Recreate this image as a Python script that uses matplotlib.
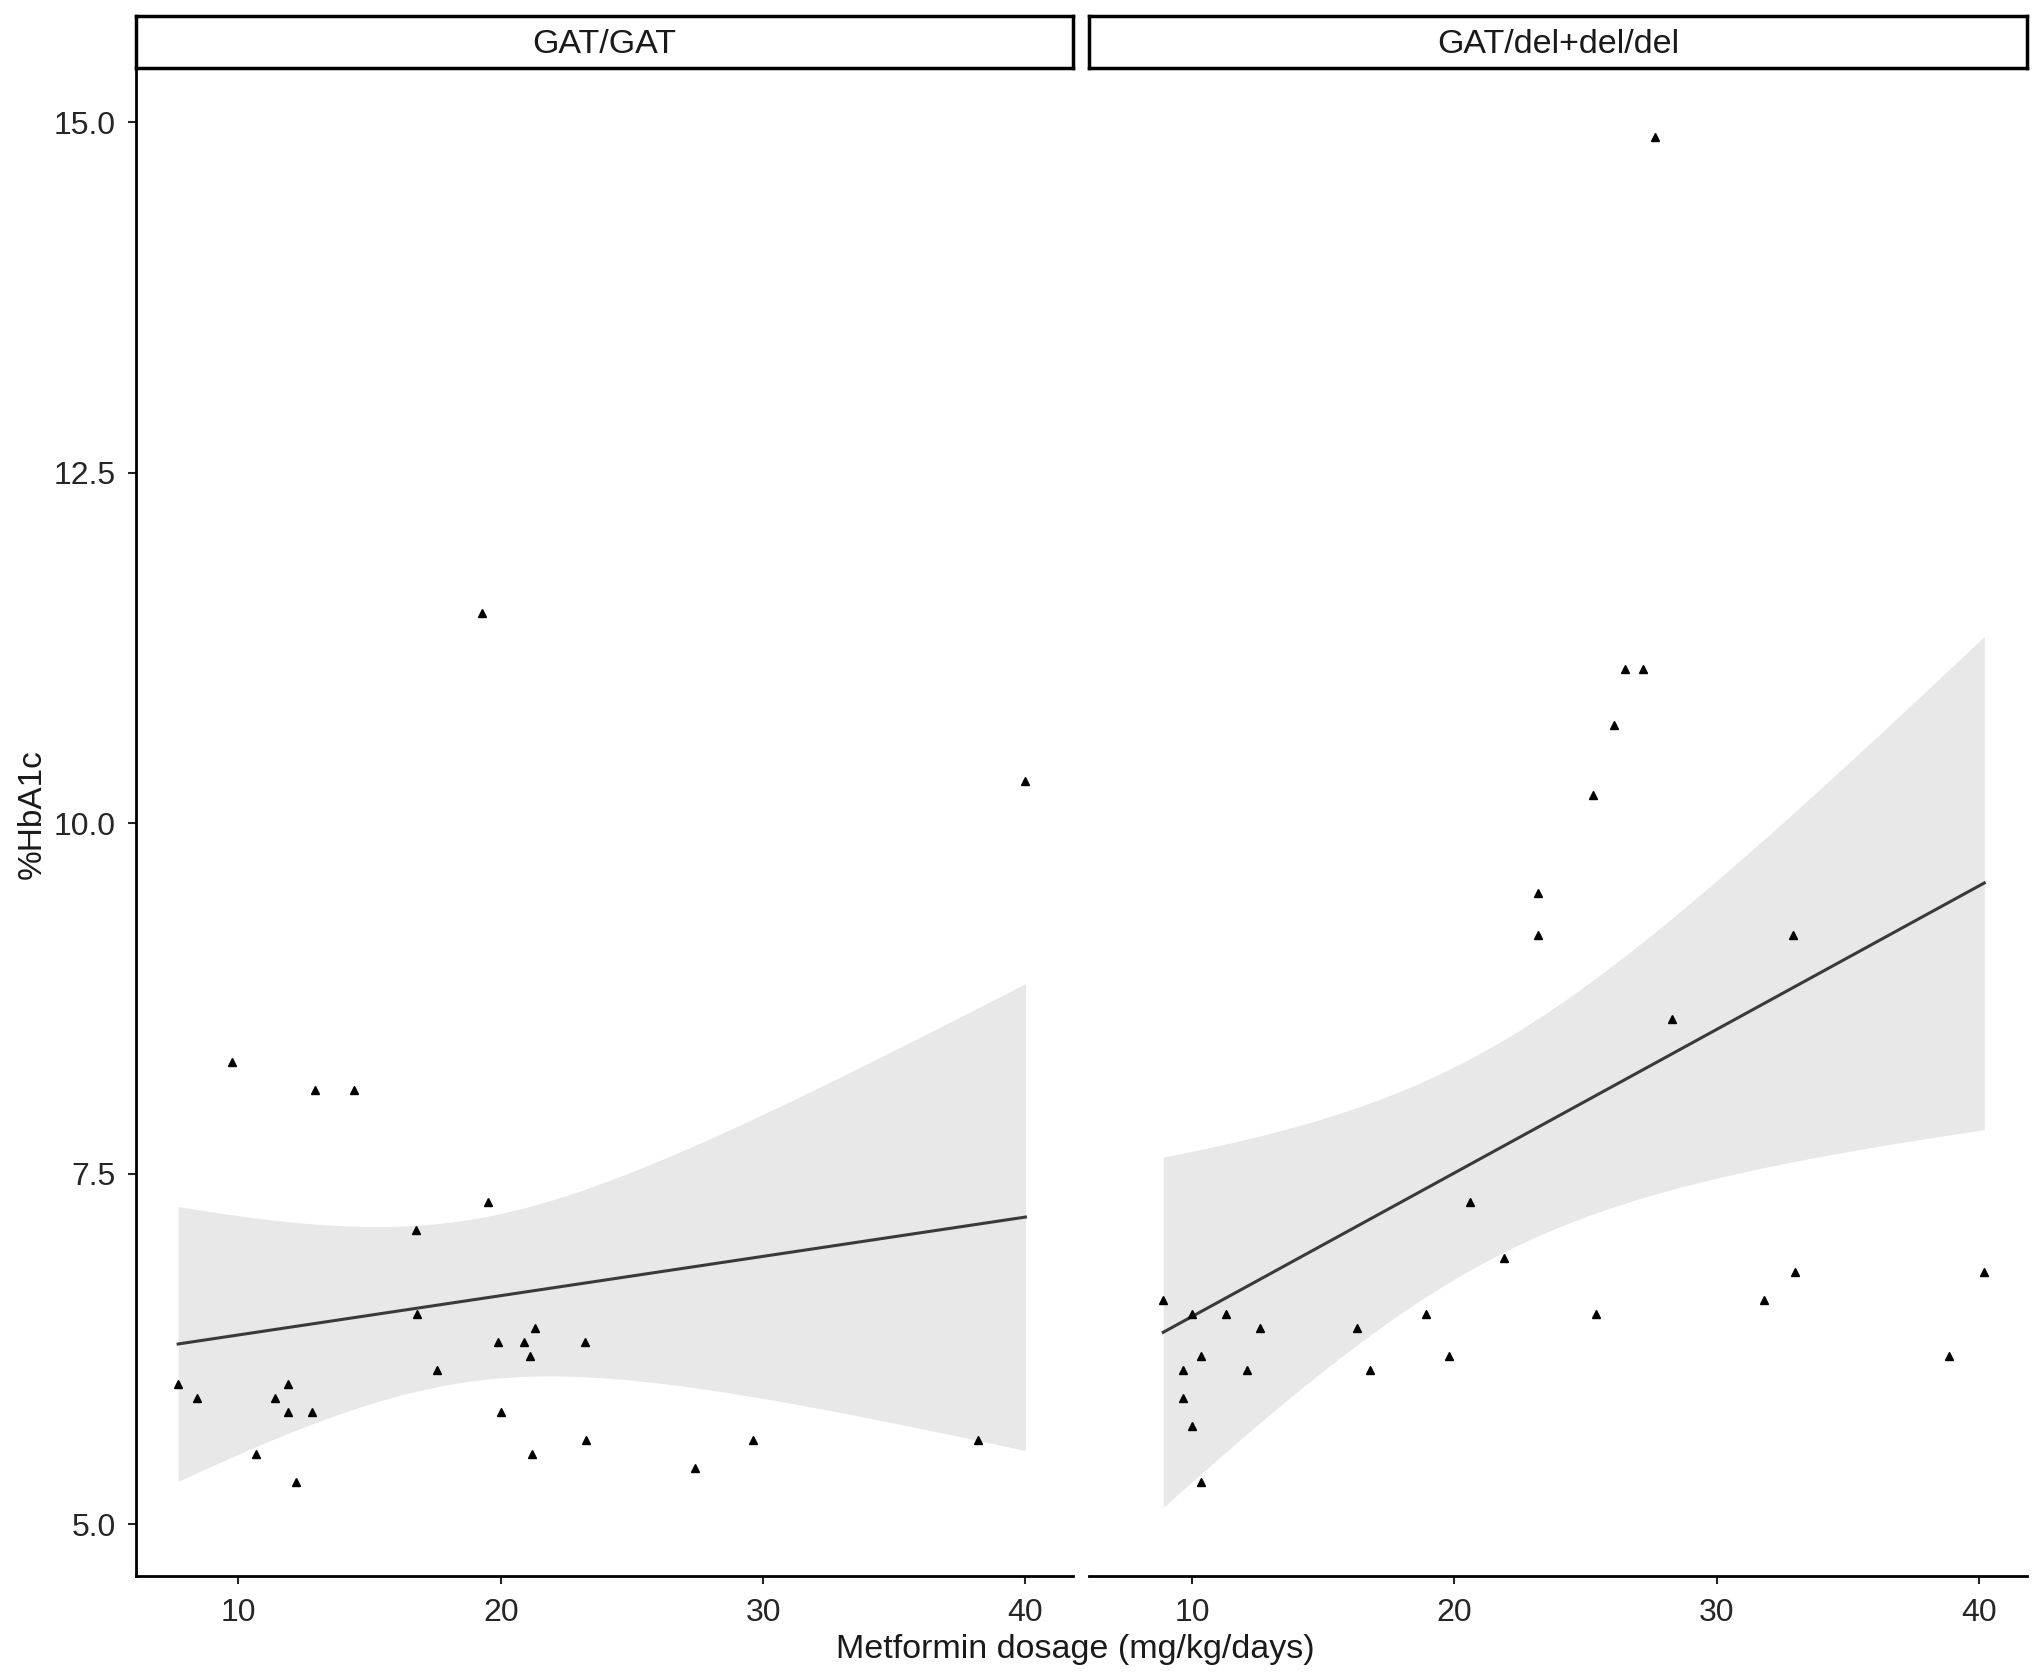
import numpy as np
import matplotlib.pyplot as plt

# GAT/GAT panel
gat_dose = [7.7, 8.4, 9.75, 10.65, 11.4, 11.9, 11.9, 12.2, 12.8, 12.9, 14.4,
            16.75, 16.8, 17.55, 19.3, 19.5, 19.9, 20.0, 20.9, 21.1, 21.3, 21.2,
            23.2, 23.25, 27.4, 29.6, 38.2, 40.0]
gat_hba1c = [6.0, 5.9, 8.3, 5.5, 5.9, 6.0, 5.8, 5.3, 5.8, 8.1, 8.1,
             7.1, 6.5, 6.1, 11.5, 7.3, 6.3, 5.8, 6.3, 6.2, 6.4, 5.5,
             6.3, 5.6, 5.4, 5.6, 5.6, 10.3]

# GAT/del + del/del panel
del_dose = [8.9, 9.65, 9.65, 10.0, 10.0, 10.35, 10.35, 11.3, 12.1, 12.6,
            16.3, 16.8, 18.9, 19.8, 20.6, 21.9, 23.2, 23.2, 25.3, 25.4,
            26.1, 26.5, 27.2, 27.65, 28.3, 31.8, 32.9, 33.0, 38.85, 40.2]
del_hba1c = [6.6, 6.1, 5.9, 6.5, 5.7, 6.2, 5.3, 6.5, 6.1, 6.4,
             6.4, 6.1, 6.5, 6.2, 7.3, 6.9, 9.5, 9.2, 10.2, 6.5,
             10.7, 11.1, 11.1, 14.9, 8.6, 6.6, 9.2, 6.8, 6.2, 6.8]

panel_titles = ['GAT/GAT', 'GAT/del+del/del']
x_ticks = [10, 20, 30, 40]
y_ticks = [5.0, 7.5, 10.0, 12.5, 15.0]

# two-sided 95% t quantiles by residual df
T_CRIT = {26: 2.056, 28: 2.048}


def lm_band(x, y, n_grid=80):
    """Linear fit with 95% confidence band, like geom_smooth(method='lm')."""
    x = np.asarray(x)
    y = np.asarray(y)
    n = len(x)
    b1, b0 = np.polyfit(x, y, 1)
    resid = y - (b0 + b1 * x)
    s = np.sqrt(np.sum(resid ** 2) / (n - 2))
    xg = np.linspace(x.min(), x.max(), n_grid)
    fit = b0 + b1 * xg
    se = s * np.sqrt(1.0 / n + (xg - x.mean()) ** 2 / np.sum((x - x.mean()) ** 2))
    t = T_CRIT.get(n - 2, 2.05)
    return xg, fit, fit - t * se, fit + t * se


plt.rcParams['font.family'] = ['Liberation Sans', 'DejaVu Sans']

fig = plt.figure(figsize=(20.32, 16.78), dpi=100)

panels = [(gat_dose, gat_hba1c), (del_dose, del_hba1c)]
bands = [lm_band(x, y) for x, y in panels]

# shared scales with ggplot-style 5% expansion
all_x = np.concatenate([gat_dose, del_dose])
all_y = np.concatenate([gat_hba1c, del_hba1c] + [b[2] for b in bands] + [b[3] for b in bands])
xr = all_x.max() - all_x.min()
yr = all_y.max() - all_y.min()
xlim = (all_x.min() - 0.05 * xr, all_x.max() + 0.05 * xr)
ylim = (all_y.min() - 0.05 * yr, all_y.max() + 0.05 * yr)

lefts = [0.0667, 0.536]
width = 0.4615
bottom, top, strip_top = 0.0608, 0.9595, 0.9907
text_col = '#262626'

for i, ((x, y), (xg, fit, lo, hi)) in enumerate(zip(panels, bands)):
    ax = fig.add_axes([lefts[i], bottom, width, top - bottom])
    ax.fill_between(xg, lo, hi, color='#e8e8e8', linewidth=0, zorder=1)
    ax.plot(xg, fit, color='#3a3a3a', linewidth=2.2, zorder=2)
    ax.plot(x, y, '^', color='black', markersize=5.5, zorder=3)

    ax.set_xlim(xlim)
    ax.set_ylim(ylim)
    ax.set_xticks(x_ticks)
    ax.set_xticklabels([str(t) for t in x_ticks])
    for s in ['top', 'right']:
        ax.spines[s].set_visible(False)
    ax.spines['bottom'].set_linewidth(2.0)
    ax.spines['left'].set_linewidth(2.0)
    ax.tick_params(axis='both', length=6, width=1.5, color=text_col,
                   labelsize=23, labelcolor=text_col, pad=10)
    if i == 0:
        ax.set_yticks(y_ticks)
        ax.set_yticklabels([f'{t:.1f}' for t in y_ticks])
        ax.tick_params(axis='y', pad=8)
    else:
        ax.spines['left'].set_visible(False)
        ax.set_yticks([])

    # facet strip
    sax = fig.add_axes([lefts[i], top, width, strip_top - top])
    sax.set_xticks([])
    sax.set_yticks([])
    for s in sax.spines.values():
        s.set_linewidth(2.5)
        s.set_color('black')
    sax.text(0.5, 0.45, panel_titles[i], ha='center', va='center',
             fontsize=24.5, color='#1a1a1a', transform=sax.transAxes)

fig.text(0.529, 0.008, 'Metformin dosage (mg/kg/days)', ha='center', va='bottom',
         fontsize=24.5, color='#1a1a1a')
fig.text(0.008, 0.515, '%HbA1c', ha='left', va='center', rotation=90,
         fontsize=24, color='#1a1a1a')

fig.savefig('out.png', dpi=100)
